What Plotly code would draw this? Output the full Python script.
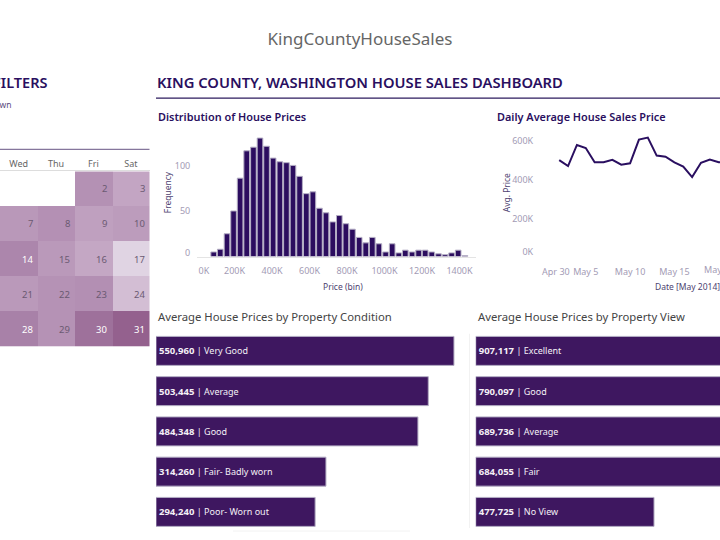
import plotly.graph_objects as go

# histogram of prices (bin position in thousands, count)
price_bins = [89, 124, 160, 195, 230, 265, 301, 336, 371, 406, 442, 477, 512, 547, 583, 618, 653, 688, 724, 759,
              794, 829, 865, 900, 935, 970, 1006, 1041, 1076, 1111, 1147, 1182, 1217, 1252, 1288, 1323, 1358, 1393, 1429]
frequency = [5, 8, 25, 50, 86, 116, 120, 130, 121, 108, 104, 103, 100, 88, 69, 71, 53, 48, 38, 45,
             36, 30, 21, 15, 21, 14, 5, 14, 4, 7, 5, 7, 7, 5, 3, 2, 4, 7, 1]

# daily average price (thousands)
dates = ["2014-05-02", "2014-05-03", "2014-05-04", "2014-05-05", "2014-05-06", "2014-05-07", "2014-05-08",
         "2014-05-09", "2014-05-10", "2014-05-11", "2014-05-12", "2014-05-13", "2014-05-14", "2014-05-15",
         "2014-05-16", "2014-05-17", "2014-05-18", "2014-05-19", "2014-05-20", "2014-05-21"]
avg_price = [502, 471, 580, 564, 491, 491, 503, 478, 485, 608, 618, 525, 519, 490, 468, 414, 488, 505, 491, 490]

# calendar (only Wed to Sat is in view)
weekdays = ["Wed", "Thu", "Fri", "Sat"]
weeks = ["w1", "w2", "w3", "w4", "w5"]
calendar_days = [[None, None, 2, 3], [7, 8, 9, 10], [14, 15, 16, 17], [21, 22, 23, 24], [28, 29, 30, 31]]
calendar_price = [[None, None, 502, 471], [491, 503, 478, 485], [519, 490, 468, 414],
                  [490, 500, 505, 440], [530, 500, 560, 590]]
white_days = [14, 28, 30, 31]

condition_names = ["Very Good", "Average", "Good", "Fair- Badly worn", "Poor- Worn out"]
condition_values = [550960, 503445, 484348, 314260, 294240]
view_names = ["Excellent", "Good", "Average", "Fair", "No View"]
view_values = [907117, 790097, 689736, 684055, 477725]

FONT = "Noto Sans"
DARK = "#2a0f60"
BAR = "#3e1760"
OUTLINE = "#b4aec4"
TICK = "#a39bb5"
AXIS_TITLE = "#4d3f70"


# pixel positions to paper fractions
def px(x):
    return x / 720


def py(y):
    return 1 - y / 540


fig = go.Figure()

# calendar
fig.add_trace(go.Heatmap(
    x=weekdays, y=weeks, z=calendar_price, zmin=414, zmax=590, showscale=False, hoverongaps=False,
    colorscale=[[0, "#e0d4e3"], [0.32, "#c3a5c3"], [0.6, "#ac86ac"], [1, "#94618e"]],
    xaxis="x", yaxis="y"
))

# histogram
fig.add_trace(go.Bar(
    x=price_bins, y=frequency, width=30, marker=dict(color="#2c0d5f", line=dict(color=OUTLINE, width=1)),
    xaxis="x2", yaxis="y2"
))

# daily line
fig.add_trace(go.Scatter(
    x=dates, y=avg_price, mode="lines", line=dict(color=DARK, width=2),
    xaxis="x3", yaxis="y3"
))

# condition and view bars
for values, names, xa, ya in [(condition_values, condition_names, "x4", "y4"),
                              (view_values, view_names, "x5", "y5")]:
    fig.add_trace(go.Bar(
        x=values, y=names, orientation="h", width=0.72,
        marker=dict(color=BAR, line=dict(color=OUTLINE, width=1)),
        text=[f"<b>{v:,}</b> <span style='font-size:9px'>| {n}</span>" for v, n in zip(values, names)],
        textposition="inside", insidetextanchor="start", textangle=0, constraintext="none",
        textfont=dict(color="#f4f0f6", size=9.5, family=FONT),
        xaxis=xa, yaxis=ya
    ))

annotations = []


def add_text(x, y, text, size, color, anchor="left", weight=400, angle=0):
    annotations.append(dict(
        xref="paper", yref="paper", x=px(x), y=py(y), text=text,
        showarrow=False, xanchor=anchor, yanchor="middle", textangle=angle, borderpad=0, borderwidth=0,
        font=dict(family=FONT, size=size, color=color, weight=weight)
    ))


add_text(46.5, 82, "FILTERS", 14.5, DARK, anchor="right", weight=600)
add_text(11, 105, "Drilldown", 8.5, "#5a4a80", anchor="right")
add_text(157, 82, "KING COUNTY, WASHINGTON HOUSE SALES DASHBOARD", 14.75, DARK, weight=600)
add_text(158, 117, "Distribution of House Prices", 10.9, DARK, weight=600)
add_text(497, 117, "Daily Average House Sales Price", 10.9, DARK, weight=600)
add_text(158, 318, "Average House Prices by Property Condition", 11.3, "#444444")
add_text(478, 318, "Average House Prices by Property View", 11.3, "#444444")
add_text(167, 193, "Frequency", 8.5, AXIS_TITLE, anchor="center", angle=-90)
add_text(343, 288, "Price (bin)", 8.5, AXIS_TITLE, anchor="center")
add_text(506, 193, "Avg. Price", 8.5, AXIS_TITLE, anchor="center", angle=-90)
add_text(687, 288, "Date [May 2014]", 8.5, AXIS_TITLE, anchor="center")

# May 20 runs off the window, an axis label there would get dropped
annotations.append(dict(
    xref="x3", yref="paper", x="2014-05-20", y=py(270), text="May 20", showarrow=False,
    xanchor="center", yanchor="middle", font=dict(family=FONT, size=9, color=TICK)
))

# day numbers sit at the right edge of each cell
for row, week in enumerate(weeks):
    for col, day in enumerate(weekdays):
        number = calendar_days[row][col]
        if number is None:
            continue
        annotations.append(dict(
            xref="x", yref="y", x=day, y=week, text=str(number), showarrow=False,
            xanchor="right", xshift=16, font=dict(family=FONT, size=9.5,
                                                  color="white" if number in white_days else "#6b5a72")
        ))

tick_font = dict(family=FONT, size=9, color=TICK)

fig.update_layout(
    width=720, height=540, margin=dict(l=0, r=0, t=0, b=0),
    paper_bgcolor="white", plot_bgcolor="white", showlegend=False,
    font=dict(family=FONT),
    title=dict(text="KingCountyHouseSales", x=0.5, xanchor="center", y=py(39), yanchor="middle",
               font=dict(family=FONT, size=17, color="#666666")),
    annotations=annotations,
    shapes=[
        dict(type="line", xref="paper", yref="paper", x0=0, x1=px(149.5), y0=py(150), y1=py(150),
             line=dict(color="#85769c", width=1.2)),
        dict(type="line", xref="paper", yref="paper", x0=px(156), x1=1, y0=py(98.5), y1=py(98.5),
             line=dict(color="#2d1b5e", width=1.2)),
        # faint dashboard dividers
        dict(type="line", xref="paper", yref="paper", x0=px(469.5), x1=px(469.5), y0=py(335), y1=py(530),
             line=dict(color="#f2f2f2", width=1)),
        dict(type="line", xref="paper", yref="paper", x0=px(233), x1=px(410), y0=py(533), y1=py(533),
             line=dict(color="#f2f2f2", width=1)),
    ],
    # calendar
    xaxis=dict(domain=[0, px(149.5)], side="top", range=[-0.5, 3.5], showgrid=False, zeroline=False,
               ticks="outside", ticklen=0, tickcolor="rgba(0,0,0,0)", showline=True, linecolor="#dddddd",
               tickangle=0, tickfont=dict(family=FONT, size=9, color="#666666"), anchor="y"),
    yaxis=dict(domain=[py(348), py(172)], autorange="reversed", visible=False, anchor="x"),
    # histogram
    xaxis2=dict(domain=[px(197), px(476)], range=[0, 1488], showgrid=False, zeroline=False, showline=True,
                linecolor="#e4e4e4", tickvals=[37, 200, 400, 600, 800, 1000, 1200, 1400],
                ticktext=["0K", "200K", "400K", "600K", "800K", "1000K", "1200K", "1400K"], tickangle=0,
                ticks="outside", ticklen=6, tickcolor="rgba(0,0,0,0)", tickfont=tick_font, anchor="y2"),
    yaxis2=dict(domain=[py(257.5), py(134)], range=[0, 135], showgrid=False, zeroline=False,
                tickvals=[4, 50, 100], ticktext=["0", "50", "100"], ticks="outside", ticklen=4,
                tickcolor="rgba(0,0,0,0)", tickfont=tick_font, anchor="x2"),
    # daily line
    xaxis3=dict(domain=[px(540), 1], type="date", range=["2014-04-29 20:00", "2014-05-20 03:30"], showgrid=False,
                zeroline=False, tickvals=["2014-05-01 15:00", "2014-05-05", "2014-05-10", "2014-05-15"],
                ticktext=["Apr 30", "May 5", "May 10", "May 15"], tickangle=0,
                ticks="outside", ticklen=6, tickcolor="rgba(0,0,0,0)", tickfont=tick_font, anchor="y3"),
    yaxis3=dict(domain=[py(258), py(130)], range=[0, 660], showgrid=False, zeroline=False,
                tickvals=[25, 200, 400, 600], ticktext=["0K", "200K", "400K", "600K"], ticks="outside", ticklen=4,
                tickcolor="rgba(0,0,0,0)", tickfont=tick_font, anchor="x3"),
    # condition bars
    xaxis4=dict(domain=[px(156), px(466)], range=[0, 573190], visible=False, anchor="y4"),
    yaxis4=dict(domain=[py(534), py(332)], autorange="reversed", visible=False, anchor="x4"),
    # view bars, the window cuts these off on the right
    xaxis5=dict(domain=[px(475.7), 1], range=[0, 654500], visible=False, anchor="y5"),
    yaxis5=dict(domain=[py(534), py(332)], autorange="reversed", visible=False, anchor="x5"),
)

fig.write_html("out.html", config=dict(displayModeBar=False), post_script="document.body.style.margin = '0';")
